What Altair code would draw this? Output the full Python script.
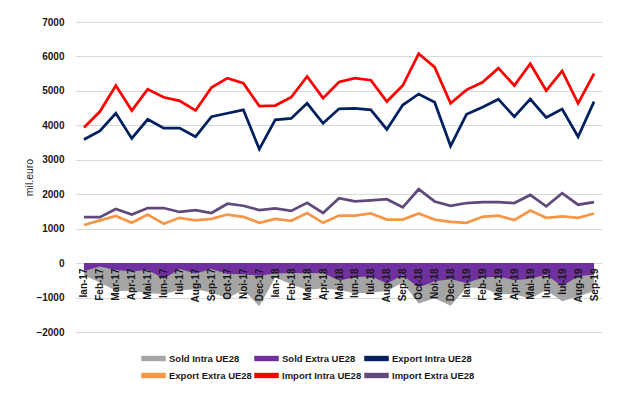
import altair as alt
import pandas as pd

months = ["Ian-17", "Feb-17", "Mar-17", "Apr-17", "Mai-17", "Iun-17", "Iul-17", "Aug-17", "Sep-17", "Oct-17", "Noi-17", "Dec-17",
          "Ian-18", "Feb-18", "Mar-18", "Apr-18", "Mai-18", "Iun-18", "Iul-18", "Aug-18", "Sep-18", "Oct-18", "Noi-18", "Dec-18",
          "Ian-19", "Feb-19", "Mar-19", "Apr-19", "Mai-19", "Iun-19", "Iul-19", "Aug-19", "Sep-19"]

export_intra = [3590, 3835, 4350, 3620, 4175, 3920, 3920, 3670, 4250, 4350, 4450, 3310,
                4160, 4200, 4640, 4060, 4480, 4495, 4450, 3880, 4590, 4910, 4670, 3400,
                4320, 4525, 4760, 4250, 4760, 4230, 4470, 3670, 4690]
import_intra = [3940, 4400, 5155, 4430, 5050, 4815, 4710, 4430, 5100, 5370, 5225, 4560,
                4575, 4815, 5420, 4790, 5260, 5370, 5310, 4690, 5155, 6080, 5690, 4640,
                5030, 5250, 5660, 5155, 5790, 5010, 5580, 4640, 5500]
export_extra = [1105, 1240, 1370, 1170, 1410, 1145, 1315, 1240, 1285, 1410, 1345, 1170,
                1285, 1230, 1455, 1170, 1380, 1380, 1440, 1265, 1265, 1440, 1265, 1200,
                1170, 1345, 1380, 1250, 1525, 1315, 1360, 1315, 1440]
import_extra = [1335, 1335, 1570, 1410, 1600, 1600, 1485, 1540, 1455, 1725, 1665, 1540,
                1590, 1515, 1750, 1455, 1885, 1790, 1820, 1855, 1620, 2145, 1790, 1665,
                1745, 1770, 1770, 1745, 1980, 1650, 2030, 1695, 1770]
sold_intra = [-350, -565, -805, -810, -875, -895, -790, -760, -850, -1020, -775, -1250,
              -415, -615, -780, -730, -780, -875, -860, -810, -565, -1170, -1020, -1240,
              -710, -725, -900, -905, -1030, -780, -1110, -970, -810]
sold_extra = [-230, -95, -200, -240, -190, -455, -170, -300, -170, -315, -320, -370,
              -305, -285, -295, -285, -505, -410, -380, -590, -355, -705, -525, -465,
              -575, -425, -390, -495, -455, -335, -670, -380, -330]

series_names = ["Sold Intra UE28", "Sold Extra UE28", "Export Intra UE28",
                "Export Extra UE28", "Import Intra UE28", "Import Extra UE28"]
series_colors = ["#A5A5A5", "#7030A0", "#002060", "#F79646", "#FF0000", "#604A7B"]
series_values = [sold_intra, sold_extra, export_intra, export_extra, import_intra, import_extra]

rows = []
for name, vals in zip(series_names, series_values):
    for m, v in zip(months, vals):
        rows.append({"month": m, "series": name, "value": v})
df = pd.DataFrame(rows)

FONT = "Liberation Sans"
color_scale = alt.Scale(domain=series_names, range=series_colors)

x_enc = alt.X("month:N", sort=months,
              scale=alt.Scale(type="point", padding=0.5),
              axis=alt.Axis(title=None, labelAngle=-90, offset=-69, domain=False, ticks=False,
                            grid=False, labelPadding=5, labelFontSize=10, labelFont=FONT,
                            labelFontWeight="bold", labelColor="#1a1a1a", zindex=1,
                            labelOverlap=False))
y_enc = alt.Y("value:Q", stack=None,
              scale=alt.Scale(domain=[-2000, 7000], nice=False, zero=False),
              axis=alt.Axis(title="mil.euro", values=list(range(-2000, 7001, 1000)),
                            format="d", labelOverlap=False,
                            domain=False, ticks=False, grid=True, gridColor="#D9D9D9",
                            gridWidth=1, labelPadding=12, labelFontSize=10, labelFont=FONT,
                            labelFontWeight="bold", labelColor="#1a1a1a",
                            titleFont=FONT, titleFontSize=10.5, titleFontWeight="normal",
                            titleColor="#1a1a1a", titlePadding=1))

legend = alt.Legend(title=None, orient="none", legendX=65, legendY=324, columns=3,
                    symbolType="M-1,-0.22H1V0.22H-1Z", symbolSize=600, symbolStrokeWidth=0,
                    labelFont=FONT, labelFontSize=9.5, labelFontWeight="bold",
                    labelColor="#1a1a1a", columnPadding=2, rowPadding=-1, labelOffset=3,
                    direction="horizontal")

color_enc = alt.Color("series:N", scale=color_scale, legend=legend, sort=series_names)

base = alt.Chart(df)

area_intra = base.transform_filter(alt.datum.series == "Sold Intra UE28").mark_area(opacity=1).encode(
    x=x_enc, y=y_enc, color=color_enc)
area_extra = base.transform_filter(alt.datum.series == "Sold Extra UE28").mark_area(opacity=1).encode(
    x=x_enc, y=y_enc, color=color_enc)
lines = base.transform_filter(
    alt.FieldOneOfPredicate(field="series", oneOf=series_names[2:])
).mark_line(strokeWidth=2.75).encode(
    x=x_enc, y=y_enc, color=color_enc)

chart = alt.layer(area_intra, area_extra, lines).properties(
    width=526, height=310,
    autosize=alt.AutoSizeParams(type="none"),
    padding={"left": 68, "top": 14, "right": 7, "bottom": 57},
).configure_view(stroke=None)

chart.save("out.html", embed_options={"renderer": "svg", "actions": False})
